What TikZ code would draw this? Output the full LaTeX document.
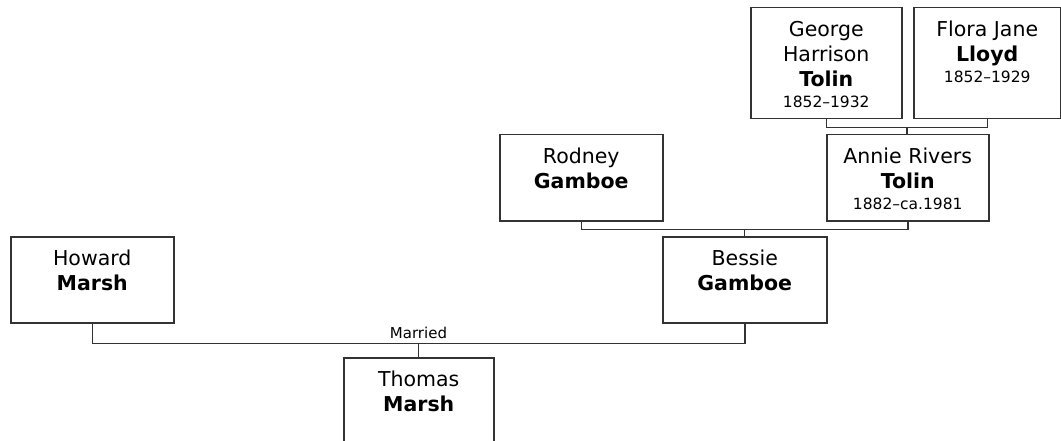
\documentclass[tikz,border=0pt]{standalone}
\usepackage{fontspec}
\setmainfont{DejaVu Sans}
\usetikzlibrary{calc}

\newcommand{\yrs}[1]{{\fontsize{15.5}{18}\selectfont #1}}
\newcommand{\card}[3]{\parbox[c][#2][t]{#1}{\centering\rule{0pt}{29pt}#3}}

\begin{document}
\begin{tikzpicture}[x=1pt,y=-1pt,
  person/.style={draw=black!80,line width=1.5pt,inner sep=0pt,anchor=north west,
    font=\fontsize{20.5}{25}\selectfont},
  link/.style={draw=black!80,line width=1.5pt}]
  \clip (0,0) rectangle (1061,441);
  % Bessie's parents and grandparents
  \node[person] (george) at (750,7) {\card{151pt}{111pt}{George\\Harrison\\\textbf{Tolin}\\[-4pt]\yrs{1852--1932}}};
  \node[person] (flora) at (913,7) {\card{147pt}{111pt}{Flora Jane\\\textbf{Lloyd}\\[-4pt]\yrs{1852--1929}}};
  \node[person] (rodney) at (499,134) {\card{163pt}{86pt}{Rodney\\\textbf{Gamboe}}};
  \node[person] (annie) at (826,134) {\card{162pt}{86pt}{Annie Rivers\\\textbf{Tolin}\\[-4pt]\yrs{1882--ca.1981}}};
  % the married couple and their son
  \node[person] (howard) at (10,236) {\card{163pt}{86pt}{Howard\\\textbf{Marsh}}};
  \node[person] (bessie) at (662,236) {\card{164pt}{86pt}{Bessie\\\textbf{Gamboe}}};
  \node[person] (thomas) at (343,357) {\card{150pt}{100pt}{Thomas\\\textbf{Marsh}}};

  % parent brackets
  \coordinate (gf) at ($(george.south)!0.5!(flora.south)+(0,8)$);
  \draw[link] (george.south) |- (gf) -| (flora.south);
  \draw[link] (gf) -- (gf |- annie.north);
  \coordinate (ra) at ($(rodney.south)!0.5!(annie.south)+(0,8)$);
  \draw[link] (rodney.south) |- (ra) -| (annie.south);
  \draw[link] (ra) -- (ra |- bessie.north);
  \coordinate (hb) at ($(howard.south)!0.5!(bessie.south)+(0,20)$);
  \draw[link] (howard.south) |- (hb) -| (bessie.south);
  \draw[link] (hb) -- (hb |- thomas.north);
  \node[font=\fontsize{15}{18}\selectfont,anchor=base] (married) at ($(hb)+(0,-5)$) {Married};
\end{tikzpicture}
\end{document}
